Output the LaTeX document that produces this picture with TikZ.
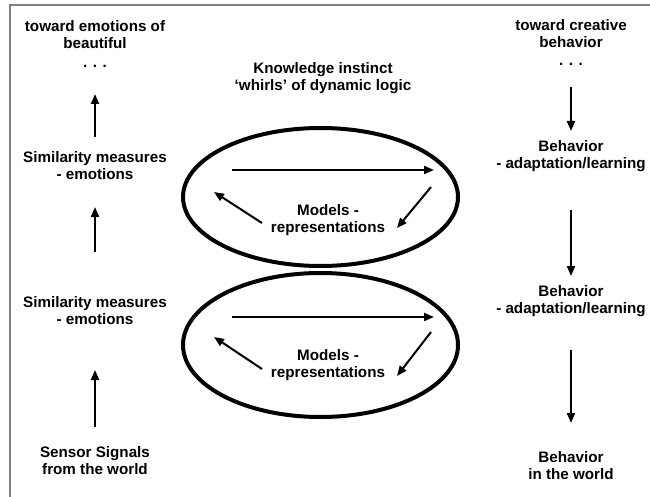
\documentclass[tikz,border=0pt]{standalone}
\usepackage{fontspec}
\setmainfont{Liberation Sans}
\usetikzlibrary{arrows.meta,shapes.geometric}
\begin{document}
\begin{tikzpicture}[x=1pt,y=-1pt,
  lbl/.style={font=\fontsize{15.2}{17}\selectfont\bfseries, align=center, inner sep=0pt},
  arr/.style={line width=2pt, -{Triangle[length=10pt,width=8pt]}},
  ell/.style={line width=4pt, draw=black},
  framel/.style={draw=gray, line width=1.5pt}]
\useasboundingbox (0,0) rectangle (650,497);
% frame (top and left edges visible)
\draw[framel] (650,5) -- (10,5) -- (10,497);

% left column
\node[lbl] (tb) at (95,35) {toward emotions of\\beautiful};
\node[lbl] (tbd) at (95,66) {. . .};
\node[lbl] (sim1) at (95,166) {Similarity measures\\- emotions};
\node[lbl] (sim2) at (95,311) {Similarity measures\\- emotions};
\node[lbl] (sens) at (95,461) {Sensor Signals\\from the world};

% right column
\node[lbl] (tc) at (571,34) {toward creative\\behavior};
\node[lbl] (tcd) at (571,64) {. . .};
\node[lbl] (beh1) at (571,156) {Behavior\\- adaptation/learning};
\node[lbl] (beh2) at (571,301) {Behavior\\- adaptation/learning};
\node[lbl] (beh3) at (571,466) {Behavior\\in the world};

% center
\node[lbl] (title) at (323,78) {Knowledge instinct\\‘whirls’ of dynamic logic};
\node[ell, ellipse, minimum width=275pt, minimum height=138pt, inner sep=0pt] (e1) at (320.5,197) {};
\node[ell, ellipse, minimum width=275pt, minimum height=144pt, inner sep=0pt] (e2) at (320.5,345) {};
\node[lbl] (m1) at (328,220) {Models -\\representations};
\node[lbl] (m2) at (328,365) {Models -\\representations};

% coordinates for arrow ends
\coordinate (l1a) at (95,137); \coordinate (l1b) at (95,94);
\coordinate (l2a) at (95,252); \coordinate (l2b) at (95,207);
\coordinate (l3a) at (95,427); \coordinate (l3b) at (95,370);
\coordinate (r1a) at (571,87); \coordinate (r1b) at (571,131);
\coordinate (r2a) at (571,210); \coordinate (r2b) at (571,276);
\coordinate (r3a) at (571,350); \coordinate (r3b) at (571,423);

\coordinate (u1) at (232,170); \coordinate (u2) at (434,170);
\coordinate (u3) at (431,187); \coordinate (u4) at (397,228);
\coordinate (u5) at (262,223); \coordinate (u6) at (214,192);
\coordinate (d1) at (232,317); \coordinate (d2) at (434,317);
\coordinate (d3) at (431,332); \coordinate (d4) at (397,376);
\coordinate (d5) at (262,369); \coordinate (d6) at (214,337);

\draw[arr] (l1a) -- (l1b);
\draw[arr] (l2a) -- (l2b);
\draw[arr] (l3a) -- (l3b);
\draw[arr] (r1a) -- (r1b);
\draw[arr] (r2a) -- (r2b);
\draw[arr] (r3a) -- (r3b);
\draw[arr] (u1) -- (u2);
\draw[arr] (u3) -- (u4);
\draw[arr] (u5) -- (u6);
\draw[arr] (d1) -- (d2);
\draw[arr] (d3) -- (d4);
\draw[arr] (d5) -- (d6);
\end{tikzpicture}
\end{document}
